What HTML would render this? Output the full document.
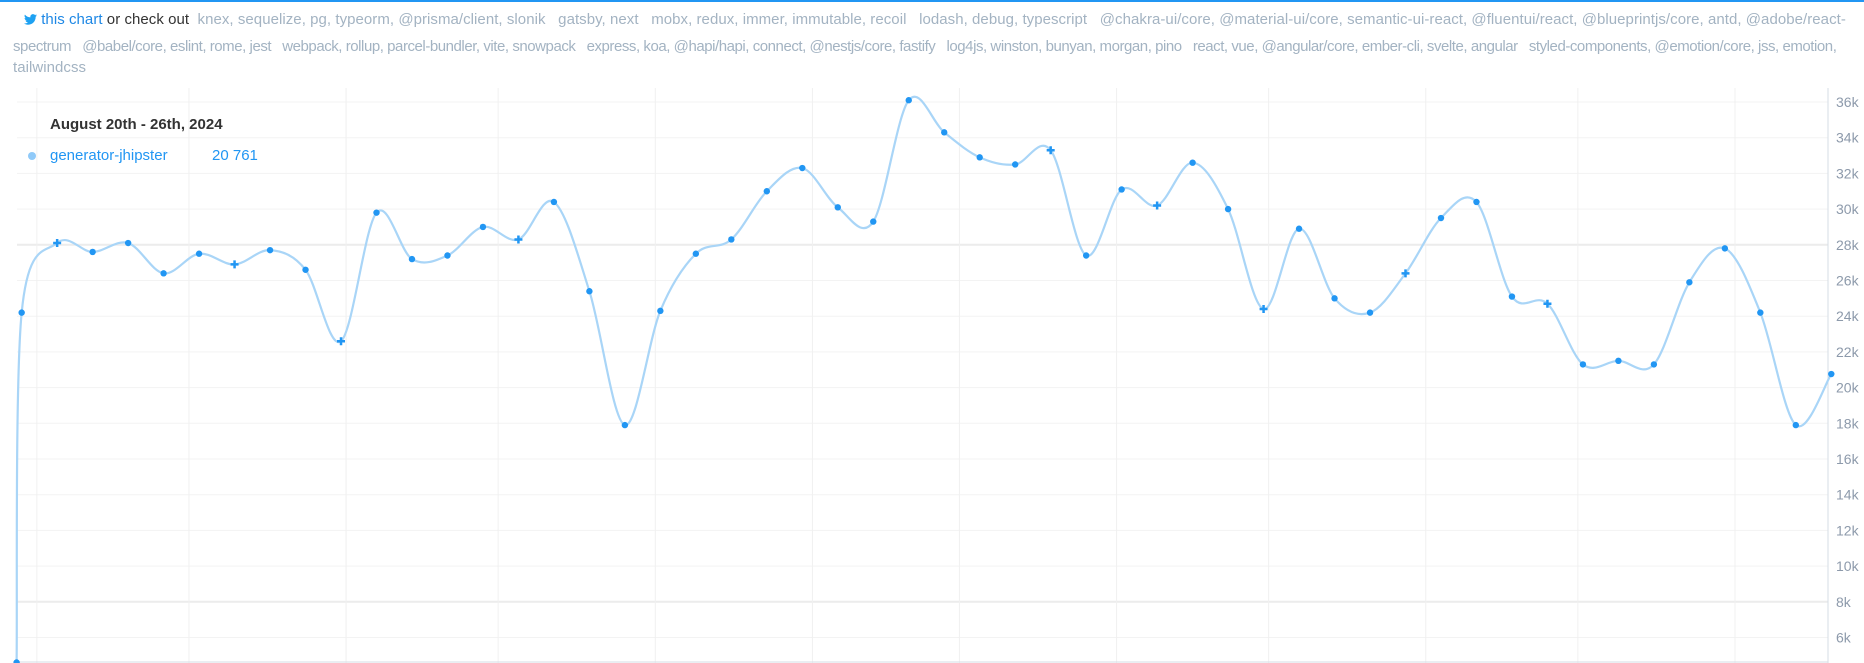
<!DOCTYPE html>
<html><head><meta charset="utf-8">
<style>
html,body{margin:0;padding:0;background:#fff;width:1864px;height:663px;overflow:hidden;font-family:"Liberation Sans",sans-serif}
#topbar{position:absolute;left:0;top:0;width:1864px;height:2px;background:#2196f3}
.ln{position:absolute;white-space:nowrap;font-size:15px;color:#a3b3c2;letter-spacing:0.05px}
.ln a{color:#1e88e5;text-decoration:none}
.ln .k{color:#333}
.tt{position:absolute;white-space:nowrap}
</style></head><body>
<div id="topbar"></div>
<div class="ln" style="left:24px;top:11px"><svg width="13" height="11" viewBox="0 0 24 20" style="vertical-align:-1px"><path d="M24 2.4c-.9.4-1.8.7-2.8.8 1-.6 1.8-1.6 2.2-2.7-1 .6-2 1-3.1 1.2C19.3.7 18 0 16.6 0c-2.700 0-4.9 2.2-4.9 4.9 0 .4 0 .8.1 1.1C7.7 5.8 4.1 3.9 1.7.9c-.4.7-.7 1.600-.7 2.5 0 1.7.9 3.2 2.2 4.1-.8 0-1.6-.2-2.2-.6v.1c0 2.4 1.7 4.4 3.9 4.8-.4.1-.8.2-1.3.2-.3 0-.6 0-.9-.1.6 2 2.4 3.4 4.6 3.4-1.7 1.3-3.8 2.1-6.1 2.1-.4 0-.8 0-1.2-.1C2.2 18.8 4.8 19.6 7.5 19.6c9.1 0 14-7.5 14-14v-.6c1-.7 1.8-1.6 2.5-2.6z" fill="#1da1f2"/></svg> <a>this chart</a> <span class="k">or check out</span>&nbsp; <span>knex, sequelize, pg, typeorm, @prisma/client, slonik &nbsp; gatsby, next &nbsp; mobx, redux, immer, immutable, recoil &nbsp; lodash, debug, typescript &nbsp; @chakra-ui/core, @material-ui/core, semantic-ui-react, @fluentui/react, @blueprintjs/core, antd, @adobe/react-</span></div>
<div class="ln" style="left:13px;top:38px;letter-spacing:-0.45px">spectrum &nbsp; @babel/core, eslint, rome, jest &nbsp; webpack, rollup, parcel-bundler, vite, snowpack &nbsp; express, koa, @hapi/hapi, connect, @nestjs/core, fastify &nbsp; log4js, winston, bunyan, morgan, pino &nbsp; react, vue, @angular/core, ember-cli, svelte, angular &nbsp; styled-components, @emotion/core, jss, emotion,</div>
<div class="ln" style="left:13px;top:59px">tailwindcss</div>
<svg id="chart" width="1864" height="663" style="position:absolute;left:0;top:0"></svg>
<div class="tt" style="left:50px;top:116px;font-weight:bold;font-size:15px;color:#333">August 20th - 26th, 2024</div>
<div class="tt" style="left:28px;top:152px;width:8px;height:8px;border-radius:50%;background:#90caf9"></div>
<div class="tt" style="left:50px;top:147px;font-size:15px;color:#2196f3">generator-jhipster</div>
<div class="tt" style="left:212px;top:147px;font-size:15px;color:#2196f3">20 761</div>
<script>
const dayOffsets=[0,1,8,15,22,29,36,43,50,57,64,71,78,85,92,99,106,113,120,127,134,141,148,155,162,169,176,183,190,197,204,211,218,225,232,239,246,253,260,267,274,281,288,295,302,309,316,323,330,337,344,351,358];
const values=[4600,24200,28100,27600,28100,26400,27500,26900,27700,26600,22600,29800,27200,27400,29000,28300,30400,25400,17900,24300,27500,28300,31000,32300,30100,29300,36100,34300,32900,32500,33300,27400,31100,30200,32600,30000,24400,28900,25000,24200,26400,29500,30400,25100,24700,21300,21500,21300,25900,27800,24200,17900,20761];
const markerIdx=[2,7,10,15,30,33,36,40,44];
const yTicks=[6000,8000,10000,12000,14000,16000,18000,20000,22000,24000,26000,28000,30000,32000,34000,36000];
const yTickLabels=["6k","8k","10k","12k","14k","16k","18k","20k","22k","24k","26k","28k","30k","32k","34k","36k"];
const startDate=[2023,7,28];
const monthStarts=[[2023,8,1],[2023,9,1],[2023,10,1],[2023,11,1],[2024,0,1],[2024,1,1],[2024,2,1],[2024,3,1],[2024,4,1],[2024,5,1],[2024,6,1],[2024,7,1]];
const NS="http://www.w3.org/2000/svg";
const svg=document.getElementById('chart');
const L=17,R=1828,T=88,B=663;
const x=d=>16.6+d*5.069;
const y=v=>637.5-(v-6000)*35.7/2000;
function mk(t,a){const e=document.createElementNS(NS,t);for(const k in a)e.setAttribute(k,a[k]);svg.appendChild(e);return e;}
yTicks.forEach((v,i)=>{
  const g=mk('line',{x1:L,x2:R,y1:y(v),y2:y(v),stroke:(v===28000||v===8000)?'#ececec':'#f3f3f3','stroke-width':(v===28000||v===8000)?2:1});
  
  
  const t=mk('text',{x:1836,y:y(v)+5,fill:'#8d9aab','font-size':14,'font-family':'Liberation Sans, sans-serif'});
  t.textContent=yTickLabels[i];
  
  
});
const s0=Date.UTC(...startDate);
monthStarts.forEach(m=>{
  const d=(Date.UTC(...m)-s0)/86400000;
  const g=mk('line',{x1:x(d),x2:x(d),y1:T,y2:B,stroke:'#f0f0f0','stroke-width':1});
  
  
});
const ax=mk('line',{x1:R,x2:R,y1:T,y2:B,stroke:'#d5dde6','stroke-width':1});


const bx=mk('line',{x1:L,x2:R,y1:662,y2:662,stroke:'#d5dde6','stroke-width':1});


const P=dayOffsets.map((d,i)=>[x(d),y(values[i])]);
let dstr='M'+P[0][0]+','+P[0][1];
for(let i=0;i<P.length-1;i++){
  const p0=P[Math.max(0,i-1)],p1=P[i],p2=P[i+1],p3=P[Math.min(P.length-1,i+2)];
  const c1=[p1[0]+(p2[0]-p0[0])/6,p1[1]+(p2[1]-p0[1])/6];
  const c2=[p2[0]-(p3[0]-p1[0])/6,p2[1]-(p3[1]-p1[1])/6];
  dstr+=' C'+c1+' '+c2+' '+p2;
}
const path=mk('path',{d:dstr,fill:'none',stroke:'#a9d5f7','stroke-width':2.2});


P.forEach((p,i)=>{
  if(markerIdx.includes(i)){
    const g=mk('path',{d:`M${p[0]-4},${p[1]}H${p[0]+4}M${p[0]},${p[1]-4}V${p[1]+4}`,stroke:'#2196f3','stroke-width':2.5});
    
    
  }else{
    const c=mk('circle',{cx:p[0],cy:p[1],r:3.2,fill:'#2196f3'});
    
    
  }
});
</script>
</body></html>
